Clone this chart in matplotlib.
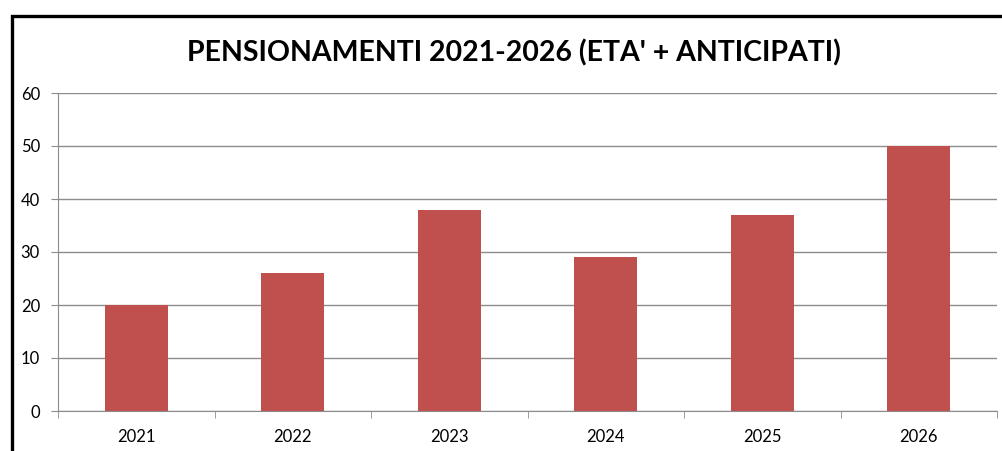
import matplotlib
matplotlib.use("Agg")
import matplotlib.pyplot as plt
from matplotlib.patches import Rectangle

years = ["2021", "2022", "2023", "2024", "2025", "2026"]
pensionamenti = [20, 26, 38, 29, 37, 50]
y_ticks = [0, 10, 20, 30, 40, 50, 60]
title = "PENSIONAMENTI 2021-2026 (ETA' + ANTICIPATI)"

W, H = 1002, 451
fig = plt.figure(figsize=(W / 100, H / 100), dpi=100)
fig.patch.set_facecolor("white")

# outer chart frame (continues past the right and bottom edges)
fig.patches.append(Rectangle((11.5 / W, -0.2), 1.2, (H - 16) / H + 0.2,
                             transform=fig.transFigure, fill=False,
                             edgecolor="black", linewidth=2.4, zorder=10))

ax = fig.add_axes([58 / W, (H - 411) / H, (997 - 58) / W, (411 - 93) / H])
x = list(range(len(years)))
ax.bar(x, pensionamenti, width=0.4, color="#C0504D", zorder=3)

ax.set_xlim(-0.5, len(years) - 0.5)
ax.set_ylim(0, 60)
ax.set_yticks(y_ticks)
ax.set_yticklabels([str(v) for v in y_ticks])
ax.set_xticks(x)
ax.set_xticklabels(years)
ax.set_xticks([i - 0.5 for i in range(len(years) + 1)], minor=True)

ax.grid(axis="y", color="#8c8c8c", linewidth=1.0, zorder=0)
for s in ["top", "right"]:
    ax.spines[s].set_visible(False)
ax.spines["left"].set_color("#8c8c8c")
ax.spines["bottom"].set_color("#8c8c8c")

ax.tick_params(axis="y", direction="out", length=5, color="#8c8c8c",
               labelsize=12, pad=8, labelcolor="black")
ax.tick_params(axis="x", which="major", length=0, pad=13,
               labelsize=12, labelcolor="black")
ax.tick_params(axis="x", which="minor", direction="out", length=5,
               color="#8c8c8c")
for lab in ax.get_xticklabels() + ax.get_yticklabels():
    lab.set_family("Lato")

fig.text(514 / W, 1 - 53 / H, title, ha="center", va="center",
         fontsize=20.5, fontweight="bold", family="Lato")

fig.savefig("out.png", dpi=100)
